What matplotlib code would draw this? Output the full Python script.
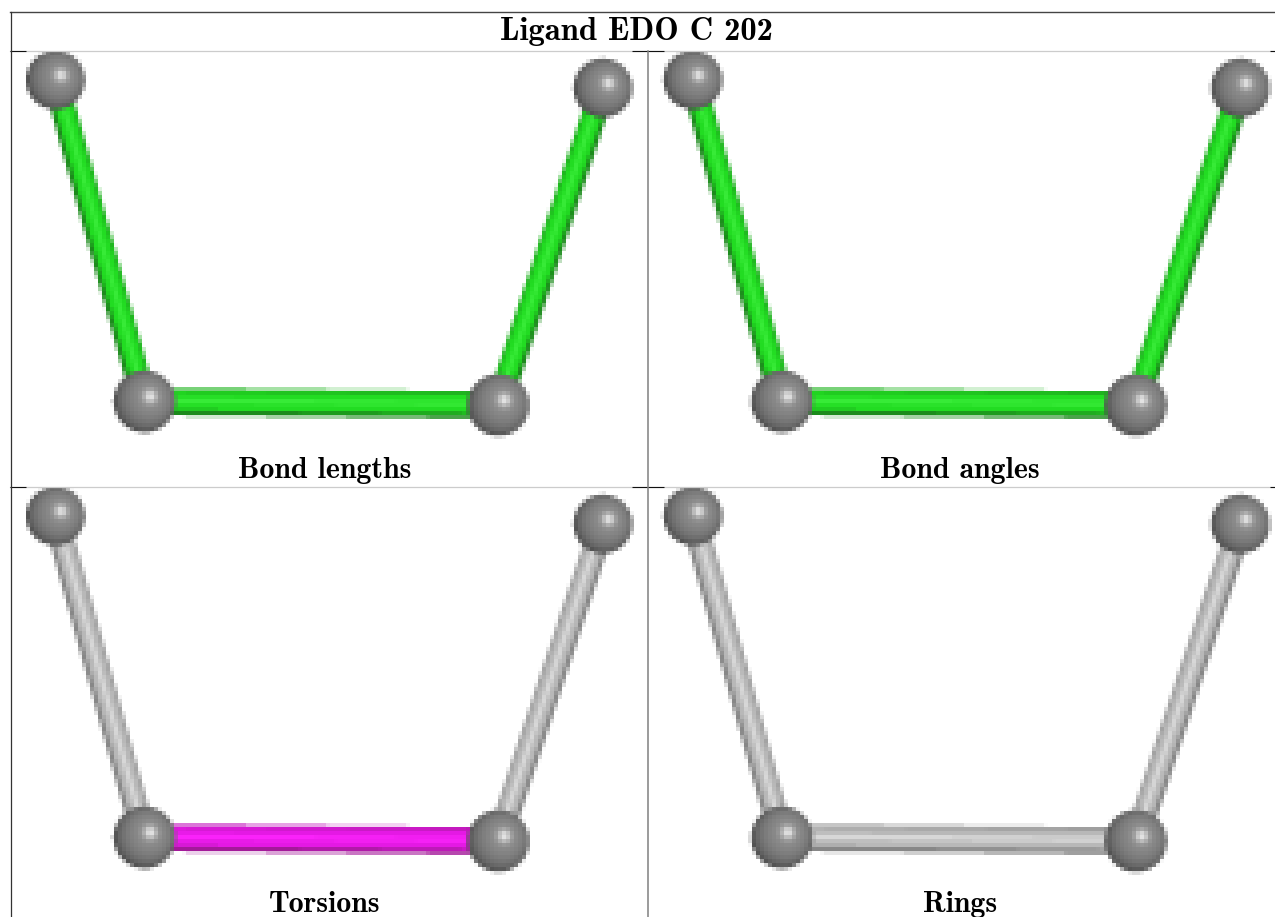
import numpy as np
import matplotlib
matplotlib.use("Agg")
import matplotlib.pyplot as plt

# ---- data (pixels within a panel) ----
title = "Ligand EDO C 202"
panel_names = ["Bond lengths", "Bond angles", "Torsions", "Rings"]
atom_x = [55.5, 144.5, 498.5, 603.0]
atom_y = [80.0, 401.5, 405.0, 88.0]
atom_r = [29.5, 31.0, 31.0, 29.5]
bond_start = [0, 1, 2]
bond_end = [1, 2, 3]
bond_half_width = [12.5, 13.5, 12.5]
panel_bond_kinds = [
    ["green", "green", "green"],
    ["green", "green", "green"],
    ["grey", "magenta", "grey"],
    ["grey", "grey", "grey"],
]
# (edge, main, highlight)
kind_colors = {
    "green": ((28, 140, 28), (34, 220, 34), (55, 235, 55)),
    "magenta": ((165, 25, 155), (228, 25, 228), (250, 35, 250)),
    "grey": ((135, 135, 135), (185, 185, 185), (215, 215, 215)),
}
panel_left = [10, 648, 10, 648]
panel_top = [51, 51, 487, 487]
panel_dx = [0, 637.5, 0, 637.5]
panel_dy = [0, 0, 436, 436]
panel_cols = [159, 157, 159, 157]
panel_rows = [100, 100, 100, 100]
label_x = [325, 960, 325, 960]
label_y = [470.5, 470.5, 904.5, 904.5]
CELL = 4
SUB = 5


def render(kinds, dx, dy, left, top, cols, rows):
    px = (np.arange(cols * SUB) + 0.5) * CELL / SUB + left
    py = (np.arange(rows * SUB) + 0.5) * CELL / SUB + top
    X, Y = np.meshgrid(px, py)
    rgb = np.ones(X.shape + (3,))
    ax_, ay_ = np.array(atom_x) + dx, np.array(atom_y) + dy
    for s, e, hw, kind in zip(bond_start, bond_end, bond_half_width, kinds):
        x0, y0, x1, y1 = ax_[s], ay_[s], ax_[e], ay_[e]
        vx, vy = x1 - x0, y1 - y0
        L2 = vx * vx + vy * vy
        t = ((X - x0) * vx + (Y - y0) * vy) / L2
        inside = (t >= 0) & (t <= 1)
        L = np.sqrt(L2)
        nx_, ny_ = -vy / L, vx / L
        if ny_ < 0:
            nx_, ny_ = -nx_, -ny_
        d = (X - x0) * nx_ + (Y - y0) * ny_   # + = lower side
        a = np.abs(d) / hw
        edge, main, light = [np.array(c) / 255 for c in kind_colors[kind]]
        col = np.empty(X.shape + (3,))
        col[...] = main
        col[(d / hw > -0.28) & (d / hw < 0.12)] = light
        col[(d / hw > 0.62)] = edge
        col[(d / hw < -0.72)] = 0.5 * edge + 0.5 * main
        mask = inside & (a <= 1)
        rgb[mask] = col[mask]
    lx, ly, lz = 0.19, -0.17, 0.967
    for x, y, r in zip(ax_, ay_, atom_r):
        nx_ = (X - x) / r
        ny_ = (Y - y) / r
        r2 = nx_ ** 2 + ny_ ** 2
        mask = r2 <= 1
        nz = np.sqrt(np.clip(1 - r2, 0, 1))
        dot = np.clip(nx_ * lx + ny_ * ly + nz * lz, 0, 1)
        g = 0.29 + 0.27 * dot + 0.36 * dot ** 45
        g = np.clip(g, 0, 1)
        rgb[mask] = g[mask][..., None]
    h, w = rows, cols
    return rgb.reshape(h, SUB, w, SUB, 3).mean(axis=(1, 3))


fig = plt.figure(figsize=(12.75, 9.17), dpi=100)
ax = fig.add_axes([0, 0, 1, 1])
ax.set_xlim(0, 1275)
ax.set_ylim(917, 0)
ax.axis("off")

for i in range(4):
    img = render(panel_bond_kinds[i], panel_dx[i], panel_dy[i], panel_left[i],
                 panel_top[i], panel_cols[i], panel_rows[i])
    ax.imshow(img, extent=(panel_left[i], panel_left[i] + panel_cols[i] * CELL,
                           panel_top[i] + panel_rows[i] * CELL, panel_top[i]),
              interpolation="nearest", aspect="auto", zorder=1)
ax.set_xlim(0, 1275)
ax.set_ylim(917, 0)

# table rules
for y in (50.5, 486.5):
    ax.plot([10, 1275], [y, y], color="#cccccc", lw=0.9, zorder=2)
    for a, b in ((10, 26), (632, 664), (1270, 1275)):
        ax.plot([a, b], [y + 0.5, y + 0.5], color="#111111", lw=0.8, zorder=3,
                solid_capstyle="butt")
ax.plot([10, 1275], [12, 12], color="#444444", lw=1.0, zorder=3)
ax.plot([10.5, 10.5], [12, 917], color="#333333", lw=0.9, zorder=3)
ax.plot([648, 648], [51, 917], color="#808080", lw=1.1, zorder=3)

ax.text(636.5, 31.5, title, family="cmb10", fontsize=23.5, ha="center", va="center", zorder=4)
for name, x, y in zip(panel_names, label_x, label_y):
    ax.text(x, y, name, family="cmb10", fontsize=21.5, ha="center", va="center", zorder=4)

fig.savefig("out.png", dpi=100)
